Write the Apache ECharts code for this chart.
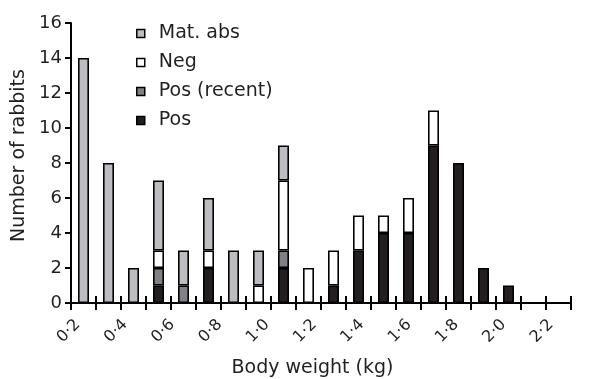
<!DOCTYPE html>
<html>
<head>
<meta charset="utf-8">
<script src="https://cdn.jsdelivr.net/npm/echarts@6/dist/echarts.min.js"></script>
<style>
html,body{margin:0;padding:0;background:#fff;}
#chart{width:589px;height:379px;}
</style>
</head>
<body>
<div id="chart"></div>
<script>
// Bins of body weight (kg): each bin starts at the listed value and is 0.1 kg wide
const binStarts = ['0.2','0.3','0.4','0.5','0.6','0.7','0.8','0.9','1.0','1.1','1.2','1.3','1.4','1.5','1.6','1.7','1.8','1.9','2.0','2.1'];
const pos       = [0,0,0,1,0,2,0,0,2,0,1,3,4,4,9,8,2,1,0,0];
const posRecent = [0,0,0,1,1,0,0,0,1,0,0,0,0,0,0,0,0,0,0,0];
const neg       = [0,0,0,1,0,1,0,1,4,2,2,2,1,2,2,0,0,0,0,0];
const matAbs    = [14,8,2,4,2,3,3,2,2,0,0,0,0,0,0,0,0,0,0,0];
const xTickValues = [0.2,0.4,0.6,0.8,1.0,1.2,1.4,1.6,1.8,2.0,2.2];
const xTickLabels = ['0·2','0·4','0·6','0·8','1·0','1·2','1·4','1·6','1·8','2·0','2·2'];
const yMin = 0, yMax = 16, yStep = 2;

const FONT = 'DejaVu Sans';
const TXT = '#231f20';
const colors = {pos:'#231f20', rec:'#808184', neg:'#ffffff', mat:'#bcbdc0'};

const chart = echarts.init(document.getElementById('chart'), null, {renderer:'canvas'});
const toData = arr => arr.map(v => v === 0 ? '-' : v);
const barBase = {
  type:'bar', stack:'total', xAxisIndex:0, yAxisIndex:0, barWidth:11,
  animation:false
};
const mk = (name, arr, color) => Object.assign({}, barBase, {
  name, data: toData(arr),
  itemStyle:{color, borderColor:'#000', borderWidth:1.6}
});

chart.setOption({
  backgroundColor:'#fff',
  animation:false,
  textStyle:{fontFamily:FONT, color:TXT},
  grid:{left:71, right:18, top:23, bottom:76, containLabel:false, outerBoundsMode:'none'},
  legend:{
    orient:'vertical', left:136, top:24, itemGap:10, padding:0,
    itemWidth:8, itemHeight:8, icon:'rect',
    data:['Mat. abs','Neg','Pos (recent)','Pos'],
    textStyle:{fontFamily:FONT, fontSize:19, color:TXT, padding:[0,0,0,9]},
    itemStyle:{borderColor:'#000', borderWidth:1.5}
  },
  xAxis:[
    {type:'category', data:binStarts, boundaryGap:true, position:'bottom',
     axisLine:{lineStyle:{color:'#000', width:2}},
     axisTick:{show:true, interval:0, length:7, lineStyle:{color:'#000', width:2}},
     axisLabel:{show:false}, splitLine:{show:false}},
    {type:'category', data:binStarts, boundaryGap:true, position:'bottom',
     axisLine:{show:false},
     axisTick:{show:true, inside:true, interval:0, length:7, lineStyle:{color:'#000', width:2}},
     axisLabel:{show:false}, splitLine:{show:false}},
    {type:'value', min:0.1717, max:2.2847, position:'bottom',
     axisLine:{show:false}, axisTick:{show:false}, splitLine:{show:false},
     axisLabel:{show:true, customValues:xTickValues, rotate:45, margin:19,
       fontFamily:FONT, fontSize:16, color:TXT,
       formatter: v => { const i = xTickValues.findIndex(t => Math.abs(t - v) < 1e-6); return i >= 0 ? xTickLabels[i] : ''; }},
     name:'Body weight (kg)', nameLocation:'middle', nameGap:56,
     nameTextStyle:{fontFamily:FONT, fontSize:19, color:TXT, padding:[0,17,0,0]}}
  ],
  yAxis:[{
    type:'value', min:yMin, max:yMax, interval:yStep,
    axisLine:{show:true, lineStyle:{color:'#000', width:2}},
    axisTick:{show:true, length:6, lineStyle:{color:'#000', width:2}},
    axisLabel:{fontFamily:FONT, fontSize:18, color:TXT, margin:9},
    splitLine:{show:false},
    name:'Number of rabbits', nameLocation:'middle', nameGap:41, nameRotate:90,
    nameTextStyle:{fontFamily:FONT, fontSize:19, color:TXT, padding:[0,0,0,15]}
  }],
  series:[
    mk('Pos', pos, colors.pos),
    mk('Pos (recent)', posRecent, colors.rec),
    mk('Neg', neg, colors.neg),
    mk('Mat. abs', matAbs, colors.mat)
  ]
});
</script>
</body>
</html>
